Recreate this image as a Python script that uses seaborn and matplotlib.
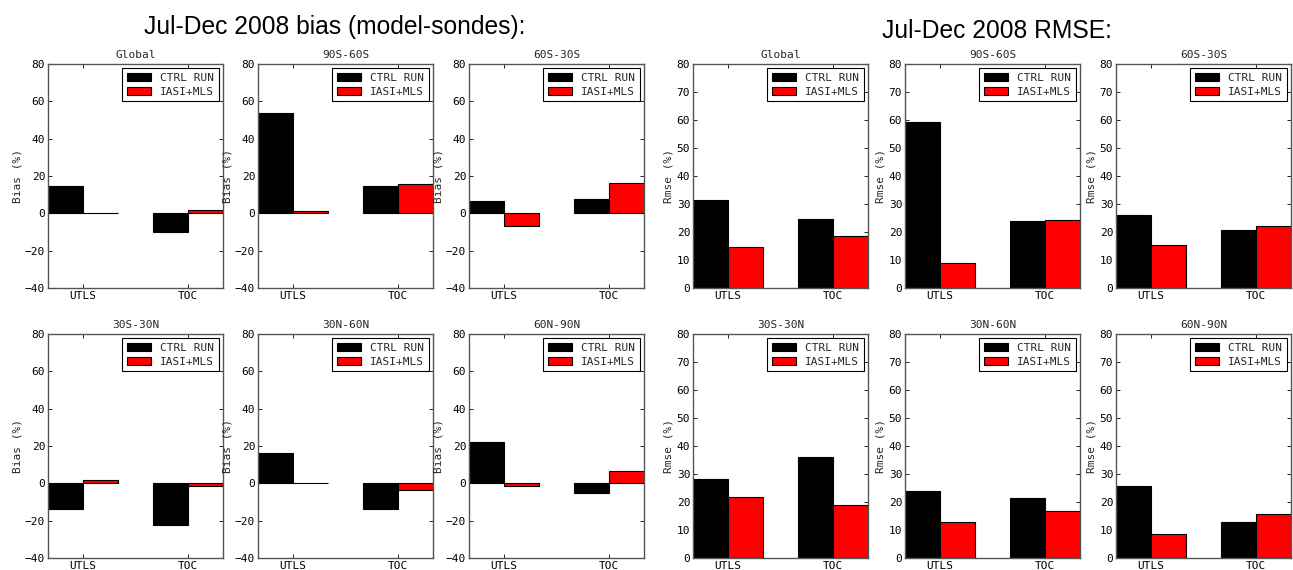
import numpy as np
import pandas as pd
import matplotlib
matplotlib.use("Agg")
import matplotlib.pyplot as plt
import seaborn as sns

# ---- data ----
regions = ["Global", "90S-60S", "60S-30S", "30S-30N", "30N-60N", "60N-90N"]
layers = ["UTLS", "TOC"]
series = ["CTRL RUN", "IASI+MLS"]

bias_ctrl = [[14.6, -9.8], [53.6, 14.6], [6.8, 7.9],
             [-13.9, -22.3], [16.4, -13.9], [22.3, -5.0]]
bias_iasi = [[0.1, 1.6], [1.2, 15.5], [-6.6, 16.4],
             [2.0, -1.4], [0.1, -3.4], [-1.2, 6.4]]

rmse_ctrl = [[31.3, 24.7], [59.3, 23.8], [25.9, 20.8],
             [28.3, 36.1], [23.8, 21.4], [25.8, 12.8]]
rmse_iasi = [[14.6, 18.5], [9.0, 24.2], [15.5, 22.2],
             [21.7, 19.0], [13.0, 16.7], [8.4, 15.8]]

bias_ticks = [-40, -20, 0, 20, 40, 60, 80]
rmse_ticks = [0, 10, 20, 30, 40, 50, 60, 70, 80]

title_bias = "Jul-Dec 2008 bias (model-sondes):"
title_rmse = "Jul-Dec 2008 RMSE:"

# ---- style ----
sns.set_style("ticks")
plt.rcParams["font.family"] = ["DejaVu Sans Mono"]
FS = 8.0

W, H = 1293, 570
fig = plt.figure(figsize=(W / 100, H / 100), dpi=100)

col_left_bias = [48, 258, 469]
col_left_rmse = [693, 905, 1116]
row_top = [64, 334]
aw, ah = 175, 224


def make_df(ctrl, iasi):
    rows = []
    for li, lay in enumerate(layers):
        rows.append({"layer": lay, "series": series[0], "value": ctrl[li]})
        rows.append({"layer": lay, "series": series[1], "value": iasi[li]})
    return pd.DataFrame(rows)


def draw(ax, df, title, ylabel, ylim, yticks):
    sns.barplot(data=df, x="layer", y="value", hue="series", order=layers,
                hue_order=series, palette=["black", "red"], width=2 / 3,
                edgecolor="black", linewidth=0.8, errorbar=None, ax=ax,
                saturation=1)
    ax.set_xlim(-1 / 3, 4 / 3)
    ax.set_ylim(*ylim)
    ax.set_yticks(yticks)
    ax.set_xlabel("")
    ax.set_ylabel(ylabel, fontsize=FS, labelpad=2)
    ax.set_title(title, fontsize=FS, pad=4)
    ax.tick_params(direction="in", length=3, width=0.6, labelsize=FS,
                   top=True, right=True, pad=2, colors="black")
    for s in ax.spines.values():
        s.set_visible(True)
        s.set_color("#555555")
        s.set_linewidth(1.0)
    leg = ax.legend(loc="upper right", fontsize=FS, title=None, fancybox=False,
                    framealpha=1, edgecolor="black", borderaxespad=0.4,
                    handlelength=2.2, handleheight=0.8, labelspacing=0.35,
                    borderpad=0.4, handletextpad=0.8)
    leg.get_frame().set_linewidth(0.8)


for i, reg in enumerate(regions):
    r, c = divmod(i, 3)
    top = row_top[r]
    # bias
    axb = fig.add_axes([col_left_bias[c] / W, 1 - (top + ah) / H, aw / W, ah / H])
    draw(axb, make_df(bias_ctrl[i], bias_iasi[i]), reg, "Bias (%)",
         (-40, 80), bias_ticks)
    # rmse
    axr = fig.add_axes([col_left_rmse[c] / W, 1 - (top + ah) / H, aw / W, ah / H])
    draw(axr, make_df(rmse_ctrl[i], rmse_iasi[i]), reg, "Rmse (%)",
         (0, 80), rmse_ticks)

fig.text(335 / W, 1 - 27 / H, title_bias, ha="center", va="center",
         fontsize=17.7, color="black", family=["Liberation Sans", "DejaVu Sans"])
fig.text(997 / W, 1 - 31 / H, title_rmse, ha="center", va="center",
         fontsize=17.7, color="black", family=["Liberation Sans", "DejaVu Sans"])

fig.savefig("out.png", dpi=100, facecolor="white")
